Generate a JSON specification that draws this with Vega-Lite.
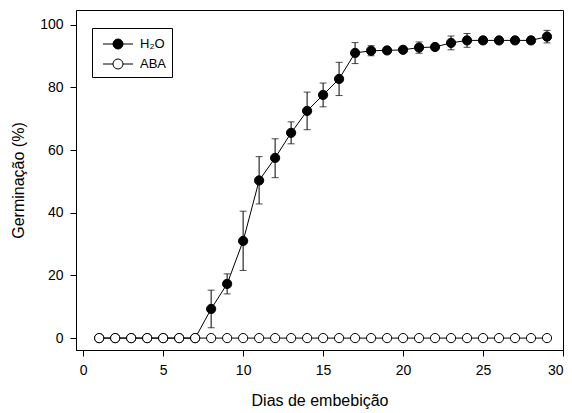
{
  "$schema": "https://vega.github.io/schema/vega-lite/v6.json",
  "width": 487,
  "height": 340,
  "autosize": {"type": "none"},
  "padding": {"left": 76, "top": 10, "right": 9, "bottom": 63},
  "background": "white",
  "config": {
    "view": {"stroke": "black", "strokeWidth": 1},
    "font": "Liberation Sans",
    "axis": {
      "grid": false,
      "domainColor": "black",
      "tickColor": "black",
      "labelColor": "black",
      "titleColor": "black",
      "labelFont": "Liberation Sans",
      "titleFont": "Liberation Sans",
      "labelFontSize": 14,
      "titleFontSize": 16,
      "titleFontWeight": "normal",
      "tickSize": 6
    }
  },
  "data": {
    "values": [
      {"day": 1, "series": "H₂O", "value": 0},
      {"day": 2, "series": "H₂O", "value": 0},
      {"day": 3, "series": "H₂O", "value": 0},
      {"day": 4, "series": "H₂O", "value": 0},
      {"day": 5, "series": "H₂O", "value": 0},
      {"day": 6, "series": "H₂O", "value": 0},
      {"day": 7, "series": "H₂O", "value": 0},
      {"day": 8, "series": "H₂O", "value": 9.3, "lo": 3.3, "hi": 15.3},
      {"day": 9, "series": "H₂O", "value": 17.3, "lo": 14.1, "hi": 20.5},
      {"day": 10, "series": "H₂O", "value": 31, "lo": 21.6, "hi": 40.5},
      {"day": 11, "series": "H₂O", "value": 50.3, "lo": 42.8, "hi": 57.9},
      {"day": 12, "series": "H₂O", "value": 57.5, "lo": 51.2, "hi": 63.6},
      {"day": 13, "series": "H₂O", "value": 65.5, "lo": 62, "hi": 69},
      {"day": 14, "series": "H₂O", "value": 72.5, "lo": 66.5, "hi": 78.5},
      {"day": 15, "series": "H₂O", "value": 77.6, "lo": 73.8, "hi": 81.4},
      {"day": 16, "series": "H₂O", "value": 82.7, "lo": 77.4, "hi": 88},
      {"day": 17, "series": "H₂O", "value": 91, "lo": 87.6, "hi": 94.3},
      {"day": 18, "series": "H₂O", "value": 91.7, "lo": 90.1, "hi": 93.3},
      {"day": 19, "series": "H₂O", "value": 91.8, "lo": 91, "hi": 92.6},
      {"day": 20, "series": "H₂O", "value": 92, "lo": 91.2, "hi": 92.8},
      {"day": 21, "series": "H₂O", "value": 92.7, "lo": 90.9, "hi": 94.5},
      {"day": 22, "series": "H₂O", "value": 92.9, "lo": 92.1, "hi": 93.7},
      {"day": 23, "series": "H₂O", "value": 94.2, "lo": 92, "hi": 96.4},
      {"day": 24, "series": "H₂O", "value": 95, "lo": 92.8, "hi": 97.2},
      {"day": 25, "series": "H₂O", "value": 95, "lo": 94, "hi": 96},
      {"day": 26, "series": "H₂O", "value": 95, "lo": 94.2, "hi": 95.8},
      {"day": 27, "series": "H₂O", "value": 95, "lo": 94.2, "hi": 95.8},
      {"day": 28, "series": "H₂O", "value": 95, "lo": 94, "hi": 96},
      {"day": 29, "series": "H₂O", "value": 96.2, "lo": 94.2, "hi": 98.2},
      {"day": 1, "series": "ABA", "value": 0},
      {"day": 2, "series": "ABA", "value": 0},
      {"day": 3, "series": "ABA", "value": 0},
      {"day": 4, "series": "ABA", "value": 0},
      {"day": 5, "series": "ABA", "value": 0},
      {"day": 6, "series": "ABA", "value": 0},
      {"day": 7, "series": "ABA", "value": 0},
      {"day": 8, "series": "ABA", "value": 0},
      {"day": 9, "series": "ABA", "value": 0},
      {"day": 10, "series": "ABA", "value": 0},
      {"day": 11, "series": "ABA", "value": 0},
      {"day": 12, "series": "ABA", "value": 0},
      {"day": 13, "series": "ABA", "value": 0},
      {"day": 14, "series": "ABA", "value": 0},
      {"day": 15, "series": "ABA", "value": 0},
      {"day": 16, "series": "ABA", "value": 0},
      {"day": 17, "series": "ABA", "value": 0},
      {"day": 18, "series": "ABA", "value": 0},
      {"day": 19, "series": "ABA", "value": 0},
      {"day": 20, "series": "ABA", "value": 0},
      {"day": 21, "series": "ABA", "value": 0},
      {"day": 22, "series": "ABA", "value": 0},
      {"day": 23, "series": "ABA", "value": 0},
      {"day": 24, "series": "ABA", "value": 0},
      {"day": 25, "series": "ABA", "value": 0},
      {"day": 26, "series": "ABA", "value": 0},
      {"day": 27, "series": "ABA", "value": 0},
      {"day": 28, "series": "ABA", "value": 0},
      {"day": 29, "series": "ABA", "value": 0}
    ]
  },
  "encoding": {
    "x": {
      "field": "day",
      "type": "quantitative",
      "scale": {"domain": [-0.45, 30], "nice": false, "zero": false},
      "axis": {"values": [0, 5, 10, 15, 20, 25, 30], "title": "Dias de embebição", "labelPadding": 7, "titlePadding": 15}
    }
  },
  "layer": [
    {
      "mark": {"type": "line", "color": "black", "strokeWidth": 1},
      "encoding": {
        "y": {
          "field": "value",
          "type": "quantitative",
          "scale": {"domain": [-3.8, 104.7], "nice": false, "zero": false},
          "axis": {"values": [0, 20, 40, 60, 80, 100], "title": "Germinação (%)", "labelPadding": 7, "titlePadding": 13}
        },
        "detail": {"field": "series", "type": "nominal"}
      }
    },
    {
      "transform": [{"filter": "isValid(datum.lo)"}],
      "mark": {"type": "rule", "color": "black", "strokeWidth": 1},
      "encoding": {
        "y": {"field": "lo", "type": "quantitative"},
        "y2": {"field": "hi"}
      }
    },
    {
      "transform": [{"filter": "isValid(datum.lo)"}],
      "mark": {"type": "tick", "orient": "horizontal", "color": "black", "size": 7, "thickness": 1},
      "encoding": {
        "y": {"field": "lo", "type": "quantitative"}
      }
    },
    {
      "transform": [{"filter": "isValid(datum.lo)"}],
      "mark": {"type": "tick", "orient": "horizontal", "color": "black", "size": 7, "thickness": 1},
      "encoding": {
        "y": {"field": "hi", "type": "quantitative"}
      }
    },
    {
      "mark": {"type": "point", "filled": true, "shape": "circle", "size": 85, "stroke": "black", "strokeWidth": 1, "opacity": 1},
      "encoding": {
        "y": {"field": "value", "type": "quantitative"},
        "fill": {
          "field": "series",
          "type": "nominal",
          "sort": null,
          "scale": {"domain": ["H₂O", "ABA"], "range": ["black", "white"]},
          "legend": {
            "orient": "none",
            "legendX": 16,
            "legendY": 18,
            "title": null,
            "strokeColor": "black",
            "fillColor": "white",
            "padding": 5,
            "rowPadding": 1,
            "symbolType": "M -1.4286 0 L -0.4762 0 M 0.4762 0 L 1.4286 0 M 0.4762 0 A 0.4762 0.4762 0 1 1 -0.4762 0 A 0.4762 0.4762 0 1 1 0.4762 0 Z",
            "symbolSize": 441,
            "symbolStrokeColor": "black",
            "symbolStrokeWidth": 1,
            "symbolOffset": 10,
            "labelOffset": 11,
            "labelFontSize": 13,
            "labelFont": "Liberation Sans",
            "labelColor": "black"
          }
        }
      }
    }
  ]
}
